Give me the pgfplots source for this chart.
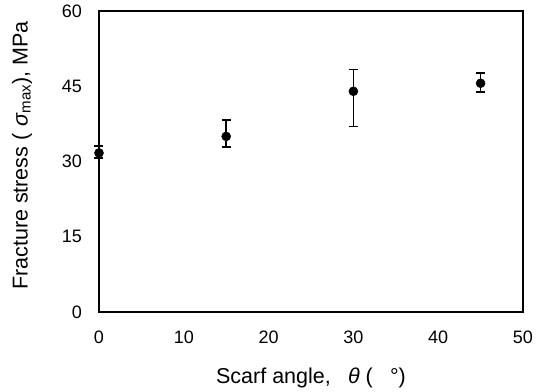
\documentclass[border=0pt]{standalone}
\usepackage{fontspec}
\setmainfont{Liberation Sans}
\usepackage{pgfplots}
\pgfplotsset{compat=1.18}

\begin{document}
\begin{tikzpicture}
\begin{axis}[
  scale only axis,
  width=424pt, height=301pt,
  xmin=0, xmax=50, ymin=0, ymax=60,
  xtick={0,10,20,30,40,50},
  ytick={0,15,30,45,60},
  major tick length=0pt,
  axis line style={line width=1.4pt},
  /pgf/number format/assume math mode=true,
  tick label style={font=\fontsize{18}{20}\selectfont, inner sep=0pt},
  xticklabel style={anchor=center, yshift=-25pt},
  yticklabel style={anchor=east, xshift=-17pt},
  clip=false,
  xlabel={Scarf angle,\hspace{0.8em}\textit{θ} (\hspace{0.8em}°)},
  ylabel={Fracture stress (\hspace{0.3em}\textit{σ}\textsubscript{max}), MPa},
  every axis x label/.style={at={(axis description cs:0.5,-0.220)}, anchor=center,
    font=\fontsize{21.5}{24}\selectfont},
  every axis y label/.style={at={(axis description cs:-0.1816,0.52)}, anchor=center, rotate=90,
    font=\fontsize{21.5}{24}\selectfont},
  error bars/error bar style={line width=1.7pt, black},
  error bars/error mark options={rotate=90, mark size=4.5pt, line width=1.6pt, black},
]
\addplot[
  black, only marks, mark=*, mark size=4.5pt,
  mark options={fill=black, draw=black, line width=0.5pt},
  error bars/y dir=both, error bars/y explicit,
] table[x=x, y=y, y error plus=ep, y error minus=em] {
x  y     ep   em
0  31.7  1.4  1.0
15 35.0  3.3  2.1
30 44.0  4.3  7.0
45 45.6  2.0  1.8
};
\end{axis}
\path (current axis.south west) ++(-99pt,-77pt) rectangle ++(536pt,389pt);
\end{tikzpicture}
\end{document}
